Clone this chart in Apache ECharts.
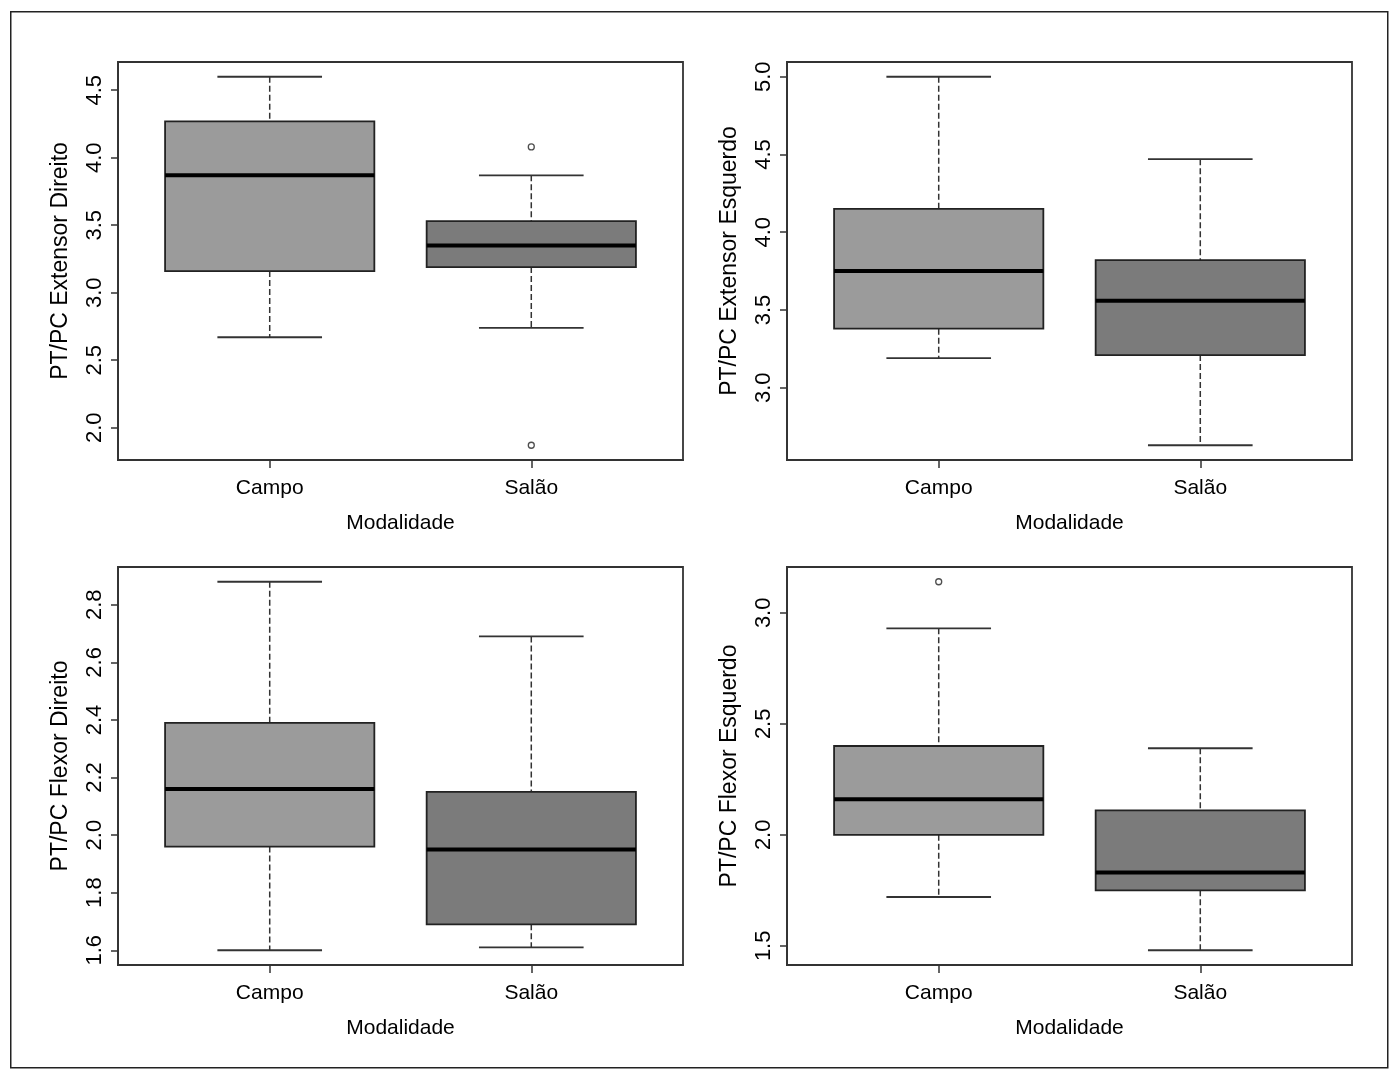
<!DOCTYPE html>
<html lang="pt">
<head>
    <meta charset="UTF-8">
    <title>PT/PC por Modalidade</title>
    <script src="https://cdn.jsdelivr.net/npm/echarts@6.0.0/dist/echarts.min.js"></script>
    <style>
        body, html {
            margin: 0;
            padding: 0;
            width: 100%;
            height: 100%;
            overflow: hidden;
            background-color: #fff;
        }
        #chart {
            width: 1391px;
            height: 1072px;
        }
    </style>
</head>
<body>
    <div id="chart"></div>

    <script>
        // categorias (posição 1 e 2 no eixo x)
        var categories = ['Campo', 'Salão'];

        // [mín, Q1, mediana, Q3, máx] para Campo e Salão
        var extensorDireito = [[2.67, 3.16, 3.87, 4.27, 4.60], [2.74, 3.19, 3.35, 3.53, 3.87]];
        var extensorEsquerdo = [[3.19, 3.38, 3.75, 4.15, 5.00], [2.63, 3.21, 3.56, 3.82, 4.47]];
        var flexorDireito = [[1.60, 1.96, 2.16, 2.39, 2.88], [1.61, 1.69, 1.95, 2.15, 2.69]];
        var flexorEsquerdo = [[1.72, 2.00, 2.16, 2.40, 2.93], [1.48, 1.75, 1.83, 2.11, 2.39]];

        // outliers [categoria, valor]
        var outExtDir = [[2, 4.08], [2, 1.87]];
        var outExtEsq = [];
        var outFlexDir = [];
        var outFlexEsq = [[1, 3.14]];

        // marcas do eixo y
        var ticksExtDir = [2.0, 2.5, 3.0, 3.5, 4.0, 4.5];
        var ticksExtEsq = [3.0, 3.5, 4.0, 4.5, 5.0];
        var ticksFlexDir = [1.6, 1.8, 2.0, 2.2, 2.4, 2.6, 2.8];
        var ticksFlexEsq = [1.5, 2.0, 2.5, 3.0];

        var yTitles = ['PT/PC Extensor Direito', 'PT/PC Extensor Esquerdo', 'PT/PC Flexor Direito', 'PT/PC Flexor Esquerdo'];
        var fills = ['#9b9b9b', '#7b7b7b'];

        var panels = [
            { stats: extensorDireito, out: outExtDir, ticks: ticksExtDir },
            { stats: extensorEsquerdo, out: outExtEsq, ticks: ticksExtEsq },
            { stats: flexorDireito, out: outFlexDir, ticks: ticksFlexDir },
            { stats: flexorEsquerdo, out: outFlexEsq, ticks: ticksFlexEsq }
        ];

        var gridPos = [
            { left: 118, top: 62 },
            { left: 787, top: 62 },
            { left: 118, top: 567 },
            { left: 787, top: 567 }
        ];

        var font = 'Liberation Sans, Arial, sans-serif';

        // faixa do eixo como no R (4% a mais de cada lado)
        function yRange(p) {
            var vals = [];
            p.stats.forEach(function (s) { vals = vals.concat(s); });
            p.out.forEach(function (o) { vals.push(o[1]); });
            var lo = Math.min.apply(null, vals), hi = Math.max.apply(null, vals);
            var ext = (hi - lo) * 0.04;
            return [lo - ext, hi + ext];
        }

        function renderBox(params, api) {
            var x = api.value(0);
            var lo = api.value(1), q1 = api.value(2), md = api.value(3), q3 = api.value(4), hi = api.value(5);
            var p = function (dx, v) { return api.coord([x + dx, v]); };
            var bl = p(-0.4, q1), tr = p(0.4, q3);
            var dash = { stroke: '#333', lineWidth: 1.5, lineDash: [6, 3] };
            var solid = { stroke: '#333', lineWidth: 1.8 };
            return {
                type: 'group',
                children: [
                    { type: 'line', shape: { x1: p(0, hi)[0], y1: p(0, hi)[1], x2: p(0, q3)[0], y2: p(0, q3)[1] }, style: dash },
                    { type: 'line', shape: { x1: p(0, q1)[0], y1: p(0, q1)[1], x2: p(0, lo)[0], y2: p(0, lo)[1] }, style: dash },
                    { type: 'line', shape: { x1: p(-0.2, hi)[0], y1: p(-0.2, hi)[1], x2: p(0.2, hi)[0], y2: p(0.2, hi)[1] }, style: solid },
                    { type: 'line', shape: { x1: p(-0.2, lo)[0], y1: p(-0.2, lo)[1], x2: p(0.2, lo)[0], y2: p(0.2, lo)[1] }, style: solid },
                    { type: 'rect', shape: { x: bl[0], y: tr[1], width: tr[0] - bl[0], height: bl[1] - tr[1] },
                      style: { fill: fills[params.dataIndex], stroke: '#222', lineWidth: 1.8 } },
                    { type: 'line', shape: { x1: p(-0.4, md)[0], y1: p(-0.4, md)[1], x2: p(0.4, md)[0], y2: p(0.4, md)[1] },
                      style: { stroke: '#000', lineWidth: 4 } }
                ]
            };
        }

        var grids = [], xAxes = [], yAxes = [], series = [];
        panels.forEach(function (p, i) {
            var r = yRange(p);
            grids.push({
                left: gridPos[i].left, top: gridPos[i].top, width: 565, height: 398,
                show: true, borderColor: '#333', borderWidth: 1.8, backgroundColor: 'transparent'
            });
            xAxes.push({
                type: 'value', gridIndex: i, min: 0.42, max: 2.58,
                name: 'Modalidade', nameLocation: 'middle', nameGap: 53,
                nameTextStyle: { fontFamily: font, fontSize: 21, color: '#000' },
                axisLine: { show: true, lineStyle: { color: '#333', width: 1.8 } },
                axisTick: { show: true, length: 8, customValues: [1, 2], lineStyle: { color: '#333', width: 1.5 } },
                axisLabel: {
                    customValues: [1, 2], margin: 18, fontFamily: font, fontSize: 21, color: '#000',
                    formatter: function (v) { return categories[Math.round(v) - 1]; }
                },
                splitLine: { show: false }
            });
            yAxes.push({
                type: 'value', gridIndex: i, min: r[0], max: r[1],
                name: yTitles[i], nameLocation: 'middle', nameGap: 46,
                nameTextStyle: { fontFamily: font, fontSize: 23, color: '#000' },
                axisLine: { show: true, lineStyle: { color: '#333', width: 1.8 } },
                axisTick: { show: true, length: 7, customValues: p.ticks, lineStyle: { color: '#333', width: 1.5 } },
                axisLabel: {
                    customValues: p.ticks, rotate: 90, margin: 12, fontFamily: font, fontSize: 22, color: '#000',
                    formatter: function (v) { return v.toFixed(1); }
                },
                splitLine: { show: false }
            });
            series.push({
                type: 'custom', xAxisIndex: i, yAxisIndex: i,
                renderItem: renderBox,
                encode: { x: 0, y: [1, 2, 3, 4, 5] },
                data: p.stats.map(function (s, k) { return [k + 1].concat(s); }),
                silent: true
            });
            series.push({
                type: 'scatter', xAxisIndex: i, yAxisIndex: i,
                data: p.out, symbol: 'circle', symbolSize: 6,
                itemStyle: { color: '#fff', borderColor: '#222', borderWidth: 1.3 },
                silent: true
            });
        });

        var chart = echarts.init(document.getElementById('chart'));
        chart.setOption({
            backgroundColor: '#fff',
            animation: false,
            grid: grids,
            xAxis: xAxes,
            yAxis: yAxes,
            series: series,
            graphic: [{
                type: 'rect', left: 10, top: 11,
                shape: { width: 1377, height: 1056 },
                style: { fill: 'transparent', stroke: '#222', lineWidth: 1.5 }
            }]
        });
    </script>
</body>
</html>
